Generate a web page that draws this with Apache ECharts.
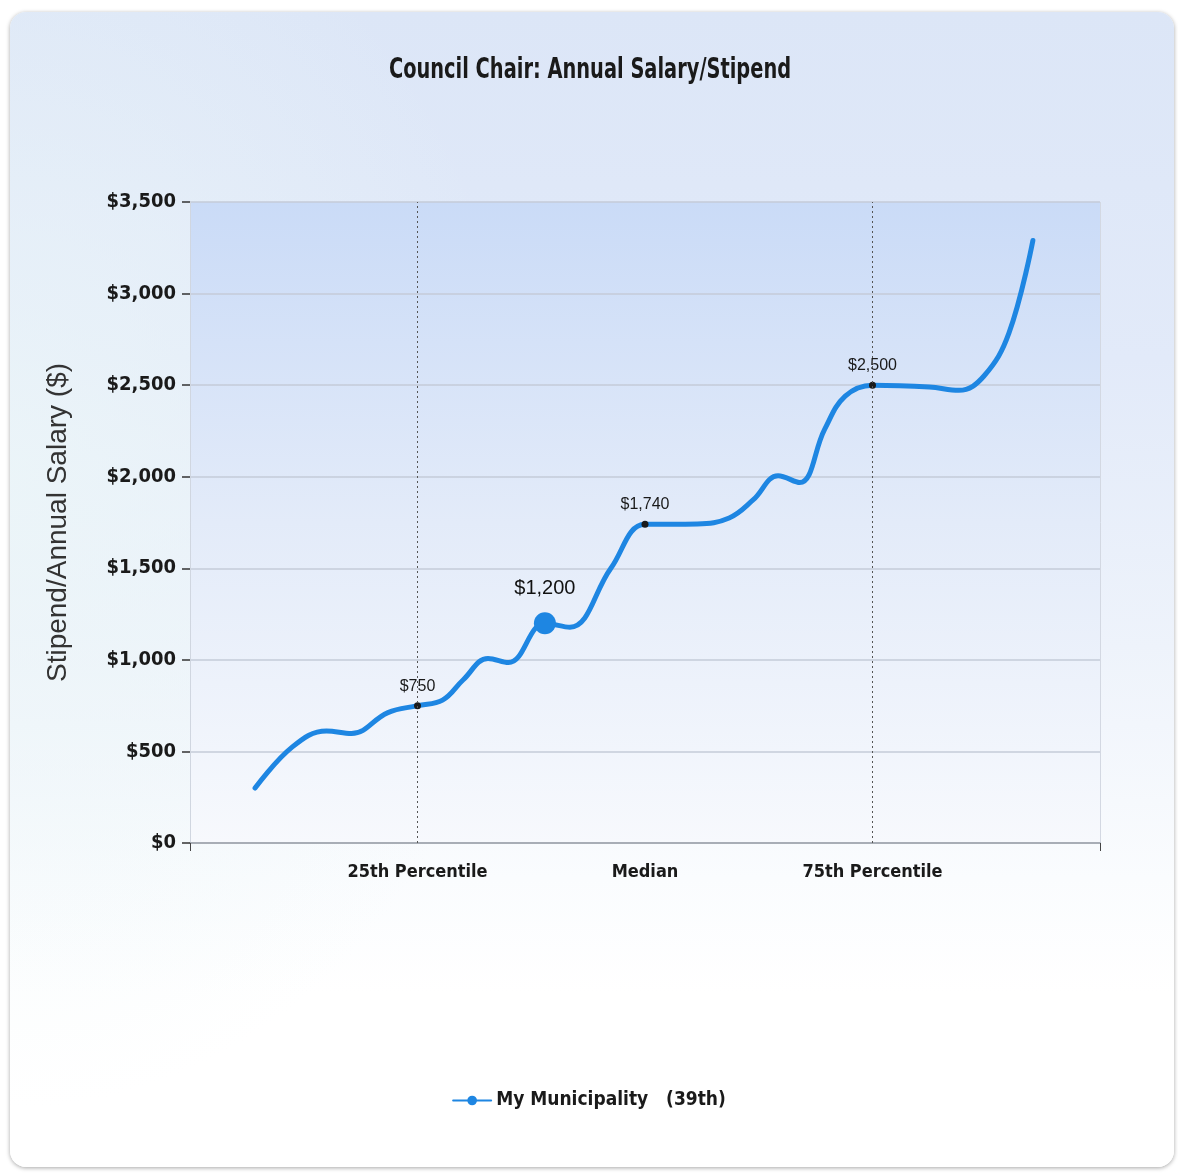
<!DOCTYPE html>
<html>
<head>
<meta charset="utf-8">
<title>Council Chair: Annual Salary/Stipend</title>
<script src="https://cdn.jsdelivr.net/npm/echarts@6/dist/echarts.min.js"></script>
<style>
html, body { margin: 0; padding: 0; background: #fff; }
#card {
  position: absolute; left: 10px; top: 12px; width: 1164px; height: 1155px;
  border-radius: 16px;
  background:
    radial-gradient(ellipse 45% 55% at 0% 40%, rgba(236, 246, 248, 0.8) 0%, rgba(255, 255, 255, 0) 100%),
    linear-gradient(to bottom, #dce6f7 0%, #e2eaf9 30%, #eef3fb 55%, #fafcfe 75%, #ffffff 85%);
  box-shadow: 0 1px 4px rgba(0, 0, 0, 0.35);
}
#main { position: absolute; left: 0; top: 0; width: 1178px; height: 1173px; }
</style>
</head>
<body>
<div id="card"></div>
<div id="main"></div>
<script>
// chart data
const chartTitle = 'Council Chair: Annual Salary/Stipend';
const yAxisName = 'Stipend/Annual Salary ($)';
const seriesName = 'My Municipality   (39th)';
const percentileX = [1, 2, 3];
const percentileLabels = ['25th Percentile', 'Median', '75th Percentile'];
const myX = 1.56; // my municipality position
// traced curve points (x on the percentile axis, y in $)
const curveX = [0.286, 0.45, 0.60, 0.71, 0.87, 1.0, 1.11, 1.2, 1.31, 1.40, 1.56, 1.67, 1.85, 2.0,
  2.23, 2.37, 2.475, 2.585, 2.68, 2.79, 2.88, 3.0, 3.25, 3.38, 3.49, 3.60, 3.705];
const curveY = [300, 525, 612, 598, 712, 750, 780, 890, 1008, 985, 1200, 1178, 1500, 1740,
  1742, 1775, 1873, 2005, 1968, 2260, 2440, 2500, 2490, 2472, 2550, 2785, 3290];

const money = v => '$' + v.toLocaleString('en-US');
const lineBlue = '#1e86e2';

const chartData = curveX.map((x, i) => {
  const item = { value: [x, curveY[i]], symbol: 'none' };
  if (percentileX.includes(x)) {
    item.symbol = 'circle';
    item.symbolSize = 7;
    item.itemStyle = { color: '#1a1a1a', borderWidth: 0 };
    item.label = { show: true };
  } else if (x === myX) {
    item.symbol = 'circle';
    item.symbolSize = 22;
    item.itemStyle = { color: lineBlue, borderWidth: 0 };
    item.label = { show: true, fontSize: 20, distance: 14, color: '#111' };
  }
  return item;
});

const myChart = echarts.init(document.getElementById('main'));
const option = {
  animation: false,
  graphic: [{
    type: 'text',
    x: 590,
    y: 71,
    scaleX: 0.77,
    style: {
      text: chartTitle,
      font: 'bold 28px "DejaVu Sans Condensed"',
      fill: '#1a1a1a',
      align: 'center',
      verticalAlign: 'middle'
    }
  }],
  grid: {
    left: 190, right: 78, top: 202, bottom: 330,
    show: true,
    borderWidth: 0,
    backgroundColor: new echarts.graphic.LinearGradient(0, 0, 0, 1, [
      { offset: 0, color: '#cadbf7' },
      { offset: 0.5, color: '#e3ebf9' },
      { offset: 1, color: '#f7f9fd' }
    ])
  },
  legend: {
    bottom: 58,
    left: 'center',
    itemWidth: 38,
    itemHeight: 12,
    itemGap: 10,
    textStyle: { fontFamily: 'DejaVu Sans Condensed', fontWeight: 'bold', fontSize: 19, color: '#1a1a1a' },
    data: [seriesName]
  },
  xAxis: {
    type: 'value',
    min: 0,
    max: 4,
    interval: 1,
    axisLine: { show: true, lineStyle: { color: '#9aa0a8', width: 1.5 } },
    axisTick: { show: true, customValues: [0, 4], length: 8, lineStyle: { color: '#444' } },
    axisLabel: {
      customValues: percentileX,
      margin: 20,
      fontFamily: 'DejaVu Sans Condensed',
      fontWeight: 'bold',
      fontSize: 18,
      color: '#1a1a1a',
      formatter: v => percentileLabels[percentileX.indexOf(v)] || ''
    },
    splitLine: { show: true, lineStyle: { color: '#d3d8e2', width: 1 } }
  },
  yAxis: {
    type: 'value',
    min: 0,
    max: 3500,
    interval: 500,
    name: yAxisName,
    nameLocation: 'middle',
    nameGap: 118,
    nameTextStyle: { fontFamily: 'Liberation Sans', fontSize: 28, color: '#333' },
    axisLine: { show: true, lineStyle: { color: '#d0d6e0', width: 1 } },
    axisTick: { show: true, length: 8, lineStyle: { color: '#333', width: 1.5 } },
    axisLabel: {
      margin: 14,
      fontFamily: 'DejaVu Sans Condensed',
      fontWeight: 'bold',
      fontSize: 20,
      color: '#1a1a1a',
      formatter: v => money(v)
    },
    splitLine: { show: true, lineStyle: { color: '#c4cbd9', width: 1.5 } }
  },
  series: [{
    name: seriesName,
    type: 'line',
    smooth: 0.4,
    symbol: 'circle',
    symbolSize: 10,
    itemStyle: { color: lineBlue },
    lineStyle: { color: lineBlue, width: 5, cap: 'round' },
    label: {
      show: false,
      position: 'top',
      distance: 8,
      fontFamily: 'Liberation Sans',
      fontSize: 16,
      color: '#1a1a1a',
      formatter: p => money(p.value[1])
    },
    data: chartData,
    markLine: {
      silent: true,
      symbol: 'none',
      label: { show: false },
      lineStyle: { color: '#555', type: [2, 3], width: 1 },
      data: [{ xAxis: percentileX[0] }, { xAxis: percentileX[2] }]
    },
    z: 3
  }]
};
myChart.setOption(option);
</script>
</body>
</html>
